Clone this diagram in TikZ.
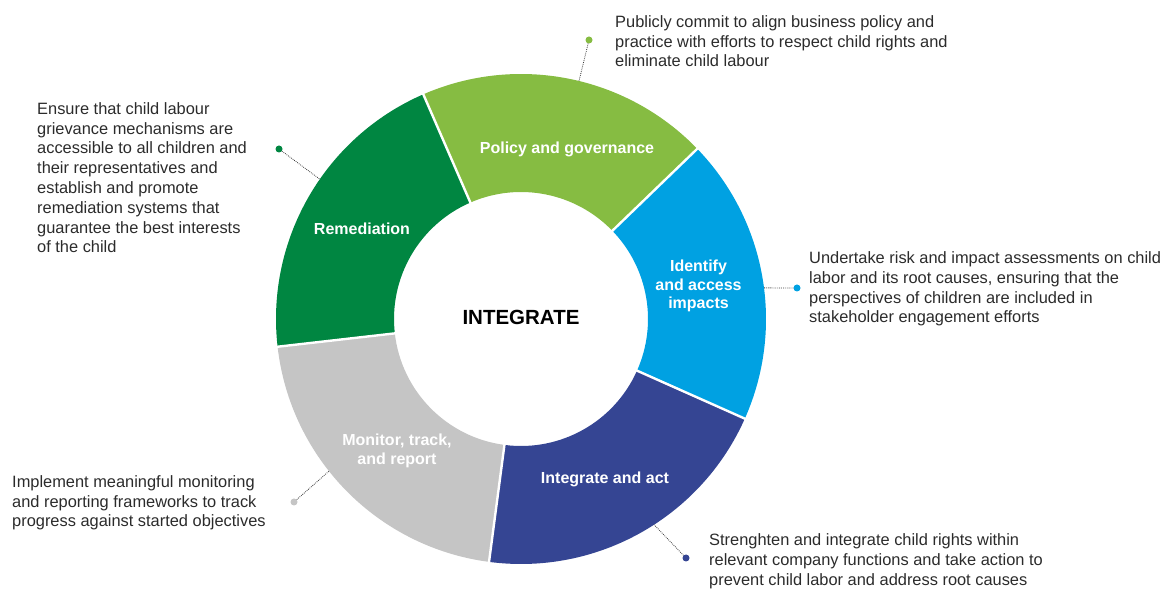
\documentclass[tikz,border=0pt]{standalone}
\usepackage{fontspec}
\setmainfont{Liberation Sans}
\setsansfont{Liberation Sans}
\definecolor{cremed}{HTML}{008641}
\definecolor{cpolicy}{HTML}{86BC42}
\definecolor{cident}{HTML}{00A1E2}
\definecolor{cinteg}{HTML}{354593}
\definecolor{cmonit}{HTML}{C5C5C5}
\definecolor{ctext}{HTML}{2B2B2B}
\definecolor{clead}{HTML}{3A3A3A}
\begin{document}
\begin{tikzpicture}[x=1pt,y=1pt,
  desc/.style={anchor=base west, inner sep=0pt, align=left, text=ctext,
    font=\fontsize{16.4}{19.8}\selectfont},
  seglabel/.style={inner sep=0pt, align=center, text=white,
    font=\bfseries\fontsize{16}{18.3}\selectfont},
  dotmark/.style={circle, inner sep=0pt, minimum size=7pt},
  leader/.style={draw=clead, line width=0.8pt, dash pattern=on 0.8pt off 1.1pt},
  divider/.style={draw=white, line width=2.4pt}
]
\useasboundingbox (0,0) rectangle (1168,589);
\coordinate (c) at (521,270);
% segments
\def\Ro{245}\def\Ri{127}
\foreach \a/\b/\col in {113.5/186.5/cremed, 44/113.5/cpolicy, -24/44/cident, -97.5/-24/cinteg, 186.5/262.5/cmonit}{
  \fill[\col] ([shift={(\a:\Ro)}]c) arc[start angle=\a, end angle=\b, radius=\Ro]
     -- ([shift={(\b:\Ri)}]c) arc[start angle=\b, end angle=\a, radius=\Ri] -- cycle;
}
\foreach \a in {113.5,44,-24,-97.5,186.5}{
  \draw[divider] ([shift={(\a:\Ri-2)}]c) -- ([shift={(\a:\Ro+2)}]c);
}
% centre
\node[font=\bfseries\fontsize{20.5}{24}\selectfont, text=black] (center) at (521,271.5) {INTEGRATE};
% segment labels
\node[seglabel] (lpolicy) at (567,440) {Policy and governance};
\node[seglabel] (lremed) at (362,360) {Remediation};
\node[seglabel] (lident) at (698.5,303) {Identify\\and access\\impacts};
\node[seglabel] (lmonit) at (397,138) {Monitor, track,\\and report};
\node[seglabel] (linteg) at (605,110) {Integrate and act};
% edge coordinates
\coordinate (eremed) at ([shift={(145.2:\Ro)}]c);
\coordinate (epolicy) at ([shift={(76.3:\Ro)}]c);
\coordinate (eident) at ([shift={(7.3:\Ro)}]c);
\coordinate (emonit) at ([shift={(218.4:\Ro)}]c);
\coordinate (einteg) at ([shift={(302.9:\Ro)}]c);
% dots
\node[dotmark, fill=cremed] (dremed) at (279,440) {};
\node[dotmark, fill=cpolicy] (dpolicy) at (589,549) {};
\node[dotmark, fill=cident] (dident) at (797,301) {};
\node[dotmark, fill=cmonit] (dmonit) at (294,87) {};
\node[dotmark, fill=cinteg] (dinteg) at (686,31) {};
\draw[leader] (dremed) -- (eremed);
\draw[leader] (dpolicy) -- (epolicy);
\draw[leader] (dident) -- (eident);
\draw[leader] (dmonit) -- (emonit);
\draw[leader] (dinteg) -- (einteg);
% descriptions (base = baseline of last line)
\node[desc] (tremed) at (37,336) {Ensure that child labour\\grievance mechanisms are\\accessible to all children and\\their representatives and\\establish and promote\\remediation systems that\\guarantee the best interests\\of the child};
\node[desc] (tpolicy) at (615,522) {Publicly commit to align business policy and\\practice with efforts to respect child rights and\\eliminate child labour};
\node[desc] (tident) at (809,266) {Undertake risk and impact assessments on child\\labor and its root causes, ensuring that the\\perspectives of children are included in\\stakeholder engagement efforts};
\node[desc] (tmonit) at (12,62) {Implement meaningful monitoring\\and reporting frameworks to track\\progress against started objectives};
\node[desc] (tinteg) at (709,3.5) {Strenghten and integrate child rights within\\relevant company functions and take action to\\prevent child labor and address root causes};
\end{tikzpicture}
\end{document}
